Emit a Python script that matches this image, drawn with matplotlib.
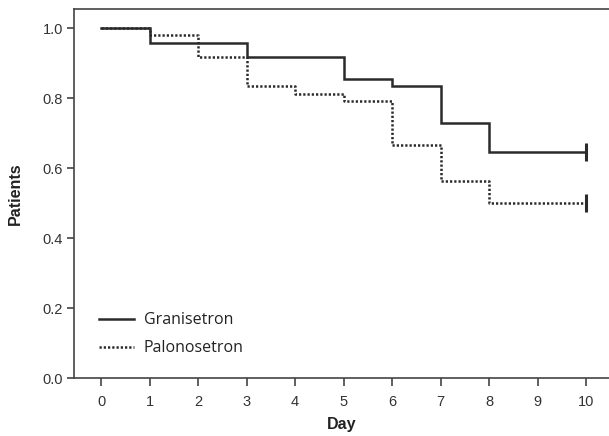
import matplotlib
matplotlib.use("Agg")
import matplotlib.pyplot as plt

plt.rcParams["font.family"] = ["Liberation Sans", "DejaVu Sans"]

# Kaplan-Meier style step curves
days = [0, 1, 2, 3, 4, 5, 6, 7, 8, 9, 10]
granisetron = [1.0, 0.958, 0.958, 0.917, 0.917, 0.854, 0.833, 0.729, 0.646, 0.646, 0.646]
palonosetron = [1.0, 0.979, 0.917, 0.833, 0.812, 0.792, 0.667, 0.562, 0.5, 0.5, 0.5]
x_ticks = [0, 1, 2, 3, 4, 5, 6, 7, 8, 9, 10]
y_ticks = [0.0, 0.2, 0.4, 0.6, 0.8, 1.0]

line_color = "#2b2b2b"

fig = plt.figure(figsize=(6.09, 4.36), dpi=100)
ax = fig.add_axes([0.1215, 0.133, 0.8785, 0.846])

ax.step(days, granisetron, where="post", color=line_color, lw=1.8,
        solid_joinstyle="miter", label="Granisetron")
ax.step(days, palonosetron, where="post", color=line_color, lw=1.8,
        linestyle=(0, (0.9, 0.8)), label="Palonosetron")

# censor marks at the end of follow-up
ax.plot([days[-1]], [granisetron[-1]], marker="|", ms=13, mew=2.2, color=line_color)
ax.plot([days[-1]], [palonosetron[-1]], marker="|", ms=13, mew=2.2, color=line_color)

ax.set_xlim(-0.56, 10.47)
ax.set_ylim(0, 1.054)
ax.set_xticks(x_ticks)
ax.set_yticks(y_ticks)
ax.set_yticklabels(["%.1f" % v for v in y_ticks])

for side in ["left", "bottom", "top"]:
    ax.spines[side].set_color("#444444")
    ax.spines[side].set_linewidth(1.2)
ax.spines["right"].set_visible(False)
ax.tick_params(axis="both", direction="out", color="#444444", width=1.2,
               labelsize=10.5, labelcolor="#333333")
ax.tick_params(axis="x", length=6, pad=6)
ax.tick_params(axis="y", length=5, pad=3)

ax.set_xlabel("Day", fontsize=11.5, fontweight="bold", color="#222222", labelpad=6)
ax.set_ylabel("Patients", fontsize=11.5, fontweight="bold", color="#222222", labelpad=14)

leg = ax.legend(loc="lower left", bbox_to_anchor=(0.02, 0.02), frameon=False,
                handlelength=2.2, handletextpad=0.6, labelspacing=0.75,
                prop={"family": "Open Sans", "size": 11.5})
for t in leg.get_texts():
    t.set_color("#222222")

fig.savefig("out.png", dpi=100)
